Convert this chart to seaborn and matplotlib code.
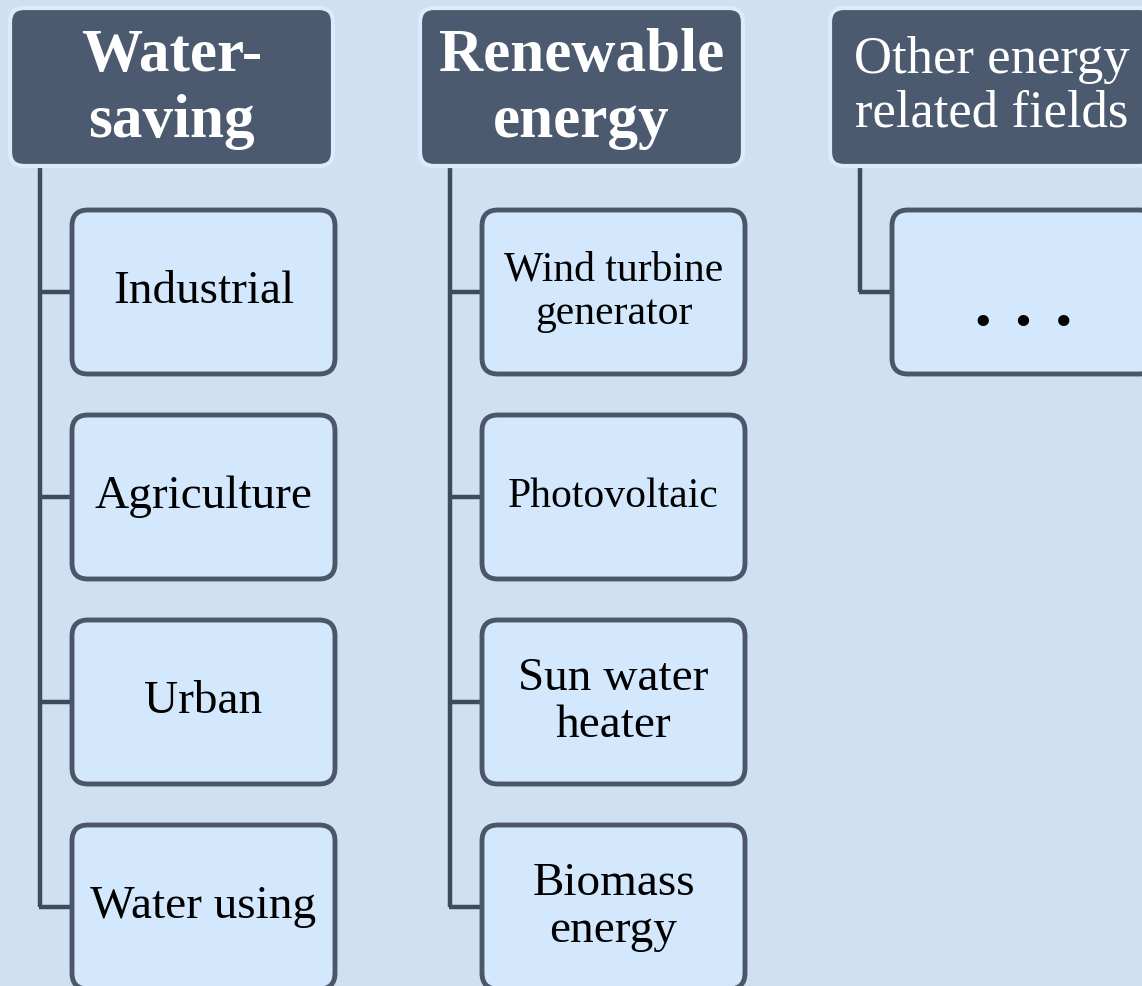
"""
plot.py
Tree diagram: energy / water-saving field categories.
"""

import matplotlib.pyplot as plt
from matplotlib.patches import FancyBboxPatch
import seaborn as sns

# ── Data ─────────────────────────────────────────────────────────────
group_titles = ["Water-\nsaving", "Renewable\nenergy", "Other energy\nrelated fields"]
group_bold = [True, True, False]
water_items = ["Industrial", "Agriculture", "Urban", "Water using"]
renew_items = ["Wind turbine\ngenerator", "Photovoltaic", "Sun water\nheater", "Biomass\nenergy"]
other_items = ["•  •  •"]
groups = [water_items, renew_items, other_items]

# ── Style ────────────────────────────────────────────────────────────
sns.set_theme(style="white")
plt.rcParams["font.family"] = ["Liberation Serif", "DejaVu Serif"]

BG = "#cee0f1"
HEAD_FILL = "#4c5a70"
HEAD_EDGE = "#d9ecfb"
CHILD_FILL = "#d3e8fc"
CHILD_EDGE = "#4b5669"
LINE = "#3e4a5d"

W, H = 1142, 986
fig = plt.figure(figsize=(W / 100, H / 100), dpi=100)
fig.patch.set_facecolor(BG)
ax = fig.add_axes([0, 0, 1, 1])
ax.set_facecolor(BG)
ax.set_xlim(0, W)
ax.set_ylim(H, 0)
ax.axis("off")

# layout (pixels)
col_left = [10, 420, 830]
head_w, head_top, head_h = 323, 8, 158
child_dx, child_w, child_h = 62, 263, 164
child_top0, child_step = 210, 205
spine_dx = 30

item_sizes = {"Wind turbine\ngenerator": 30, "Photovoltaic": 30}

for gi, (title, items) in enumerate(zip(group_titles, groups)):
    x0 = col_left[gi]
    bold = group_bold[gi]
    # header box
    ax.add_patch(FancyBboxPatch(
        (x0, head_top), head_w, head_h,
        boxstyle="round,pad=0,rounding_size=14",
        facecolor=HEAD_FILL, edgecolor=HEAD_EDGE, linewidth=3, zorder=3,
    ))
    ax.text(x0 + head_w / 2, head_top + head_h / 2 + (2 if bold else 0), title,
            ha="center", va="center", color="white",
            fontsize=44 if bold else 38,
            fontweight="bold" if bold else "normal",
            linespacing=1.25 if bold else 1.15, zorder=4)

    # connector spine
    sx = x0 + spine_dx
    centers = [child_top0 + child_step * i + child_h / 2 for i in range(len(items))]
    ax.plot([sx, sx], [head_top + head_h + 2, centers[-1]],
            color=LINE, linewidth=3.2, solid_capstyle="butt", zorder=2)

    for i, label in enumerate(items):
        cy = centers[i]
        cx0 = x0 + child_dx
        ax.plot([sx - 1.5, cx0], [cy, cy], color=LINE, linewidth=3.2,
                solid_capstyle="butt", zorder=2)
        ax.add_patch(FancyBboxPatch(
            (cx0, child_top0 + child_step * i), child_w, child_h,
            boxstyle="round,pad=0,rounding_size=16",
            facecolor=CHILD_FILL, edgecolor=CHILD_EDGE, linewidth=3.5, zorder=3,
        ))
        if label.startswith("•"):
            ax.text(cx0 + child_w / 2, cy + 33, label, ha="center", va="center",
                    fontsize=34, color="black", zorder=4)
        else:
            ax.text(cx0 + child_w / 2, cy, label, ha="center", va="center",
                    fontsize=item_sizes.get(label, 34), color="black",
                    linespacing=1.15, zorder=4)

plt.savefig("out.png", dpi=100, facecolor=BG)
plt.close()
